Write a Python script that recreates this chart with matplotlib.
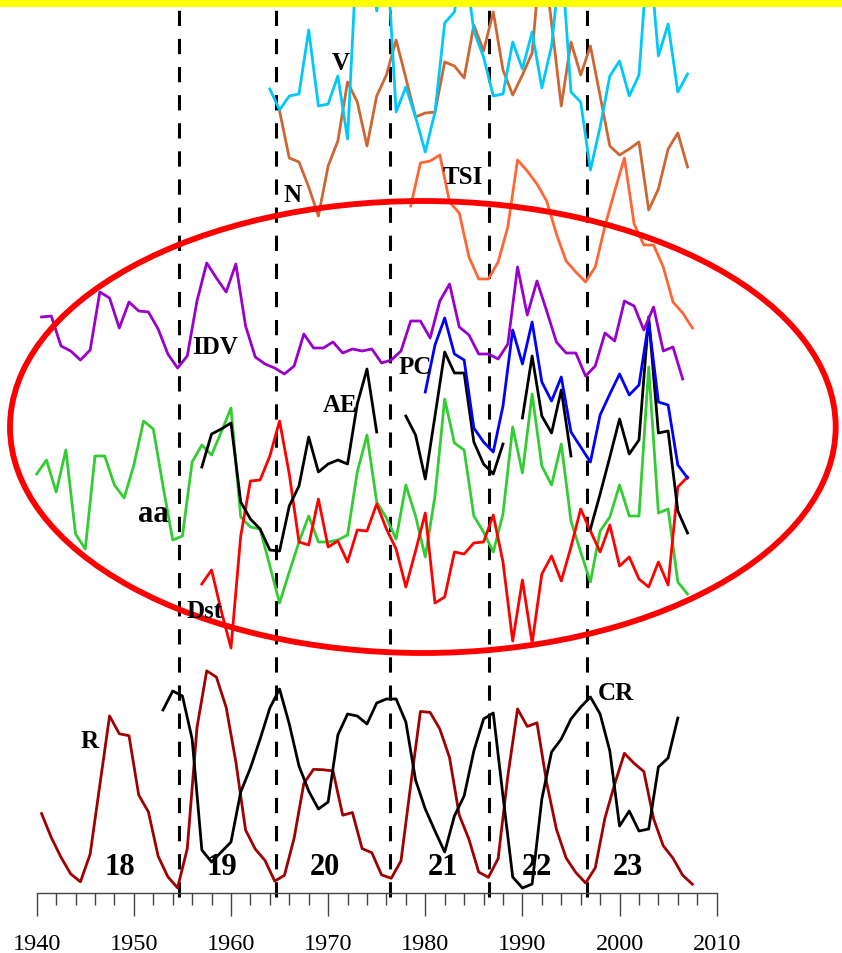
import numpy as np
import matplotlib
matplotlib.use("Agg")
import matplotlib.pyplot as plt
from matplotlib.patches import Ellipse
from matplotlib.ticker import FixedLocator

plt.rcParams['font.family'] = ['Liberation Serif', 'DejaVu Serif']

nan = np.nan

# Annual sunspot number R (plotted at mid-year), cycles 18-23
r_years = np.arange(1940, 2008) + 0.5
sunspot_r = [68.0, 47.5, 30.6, 16.3, 9.6, 33.2, 92.6, 151.6, 136.3, 134.7,
             83.9, 69.4, 31.5, 13.9, 4.4, 38.0, 141.7, 190.2, 184.8, 159.0,
             112.3, 53.9, 37.6, 27.9, 10.2, 15.1, 47.0, 93.8, 105.9, 105.5,
             104.5, 66.6, 68.9, 38.0, 34.5, 15.5, 12.6, 27.5, 92.5, 155.4,
             154.6, 140.4, 115.9, 66.6, 45.9, 17.9, 13.4, 29.4, 100.2, 157.6,
             142.6, 145.7, 94.3, 54.6, 29.9, 17.5, 8.6, 21.5, 64.3, 93.3,
             119.6, 111.0, 104.0, 63.7, 40.4, 29.8, 15.2, 7.5]
r_scale = 1.168

# Remaining indices, given as levels in the common stacked layout
cr_years = np.arange(1953, 2007)
cr_level = [183, 202, 197, 154, 43, 31, 41, 51, 101, 125,
            154, 185, 204, 169, 127, 102, 84, 91, 158, 179,
            177, 169, 190, 194, 194, 171, 113, 84, 62, 41,
            77, 97, 142, 174, 180, 97, 16, 5, 9, 94,
            141, 154, 174, 186, 196, 179, 142, 67, 82, 62,
            64, 126, 135, 175]

dst_years = np.arange(1957, 2008)
dst_level = [309, 323, 282, 245, 357, 412, 413, 437, 472, 419,
             351, 348, 394, 346, 352, 331, 363, 362, 389, 364,
             344, 306, 342, 380, 290, 296, 341, 339, 350, 351,
             378, 331, 252, 313, 250, 319, 337, 312, 346, 384,
             362, 341, 368, 327, 336, 314, 306, 331, 308, 406,
             416]

aa_years = np.arange(1940, 2008)
aa_level = [419, 433, 401, 443, 359, 344, 437, 437, 408, 395,
            428, 472, 464, 407, 353, 357, 431, 448, 438, 461,
            485, 376, 366, 364, 327, 290, 321, 351, 377, 351,
            351, 353, 358, 421, 458, 391, 375, 354, 408, 377,
            336, 397, 494, 450, 443, 377, 361, 341, 379, 466,
            420, 499, 427, 408, 449, 372, 341, 311, 362, 376,
            408, 377, 377, 526, 380, 384, 311, 299]

ae_years = np.arange(1957, 2008)
ae_level = [426, 459, 464, 470, 391, 374, 364, 343, 342, 387,
            407, 456, 421, 429, 433, 429, 489, 524, 461, nan,
            nan, 477, 458, 414, 477, 541, 520, 520, 451, 429,
            419, 449, nan, 475, 537, 477, 460, 503, 437, nan,
            364, 399, 436, 474, 439, 453, 576, 460, 462, 382,
            360]

pc_years = np.arange(1980, 2008)
pc_level = [501, 548, 575, 539, 533, 465, 451, 441, 487, 563,
            529, 571, 511, 492, 516, 461, 446, 431, 478, 499,
            519, 498, 508, 571, 491, 488, 428, 415]

idv_years = np.arange(1940, 2007) + 0.5
idv_level = [576, 577, 547, 542, 533, 543, 601, 595, 565, 591,
             582, 581, 564, 539, 525, 537, 592, 630, 615, 601,
             629, 567, 536, 529, 525, 519, 527, 559, 545, 545,
             551, 540, 544, 542, 544, 530, 533, 542, 572, 572,
             555, 592, 609, 566, 558, 539, 539, 534, 549, 626,
             578, 612, 582, 551, 540, 540, 517, 527, 560, 552,
             592, 587, 563, 586, 542, 546, 514]

tsi_years = np.arange(1978, 2008) + 0.5
tsi_level = [687, 730, 732, 738, 691, 680, 636, 614, 614, 631,
             666, 733, 722, 709, 692, 659, 632, 621, 611, 626,
             667, 702, 735, 669, 648, 648, 626, 591, 580, 565]

n_years = np.arange(1965, 2008)
n_level = [782, 735, 731, 706, 677, 727, 752, 811, 791, 747,
           797, 818, 853, 815, 776, 780, 781, 831, 827, 815,
           868, 842, 881, 823, 798, 818, 840, 950, 870, 787,
           851, 818, 847, 797, 747, 738, 744, 751, 683, 704,
           744, 760, 726]

v_years = np.arange(1964, 2008)
v_level = [804, 783, 797, 799, 863, 787, 789, 817, 754, 950,
           960, 882, 950, 781, 806, 776, 741, 781, 870, 881,
           935, 862, 836, 797, 799, 851, 824, 861, 805, 847,
           940, 801, 791, 723, 766, 817, 832, 797, 818, 950,
           837, 869, 801, 819]

solar_minima = [1954.6, 1964.6, 1976.4, 1986.6, 1996.6]
cycle_numbers = ['18', '19', '20', '21', '22', '23']
cycle_label_years = [1948.6, 1959.1, 1969.7, 1981.8, 1991.5, 2000.9]

fig = plt.figure(figsize=(8.42, 9.54), dpi=100)
ax = fig.add_axes([0, 0, 1, 1])
ax.set_xlim(1936.22, 2022.9)
ax.set_ylim(-60, 894)

lw = 2.0
ax.plot(r_years, np.array(sunspot_r) * r_scale, color='#a00000', lw=lw)
ax.plot(cr_years, cr_level, color='black', lw=lw)
ax.plot(aa_years, aa_level, color='#33cc33', lw=lw)
ax.plot(dst_years, dst_level, color='#ff0000', lw=lw)
ax.plot(ae_years, ae_level, color='black', lw=lw)
ax.plot(pc_years, pc_level, color='#0000ff', lw=lw)
ax.plot(idv_years, idv_level, color='#9900cc', lw=lw)
ax.plot(tsi_years, tsi_level, color='#ff6633', lw=lw)
ax.plot(n_years, n_level, color='#cc6633', lw=lw)
ax.plot(v_years, v_level, color='#00c8f8', lw=lw)

# solar minima
for yr in solar_minima:
    ax.plot([yr, yr], [-4, 886], color='black', lw=2.2,
            dashes=(5, 4.2), zorder=1)

# highlight the geomagnetic block
ax.add_patch(Ellipse((1979.75, 466), 85.0, 452, fill=False,
                     edgecolor='#ff0000', lw=4.2, zorder=5))

ax.axhspan(886, 900, color='#ffff00', zorder=6, lw=0)

labels = [('V', 1971.3, 831, 18), ('N', 1966.3, 698, 18),
          ('TSI', 1983.9, 716, 18), ('IDV', 1958.4, 546, 18),
          ('PC', 1979.0, 527, 18), ('AE', 1971.2, 488, 18),
          ('aa', 1952.0, 380, 22), ('Dst', 1957.3, 282, 18),
          ('R', 1945.4, 152, 18), ('CR', 1999.6, 200, 18)]
for txt, x, y, size in labels:
    ax.text(x, y, txt, fontsize=size, fontweight='bold', ha='center',
            va='center', zorder=7)

for txt, x in zip(cycle_numbers, cycle_label_years):
    ax.text(x, 26, txt, fontsize=22, fontweight='bold', ha='center',
            va='center', zorder=7)

# time axis
for side in ['top', 'left', 'right']:
    ax.spines[side].set_visible(False)
ax.spines['bottom'].set_position(('data', 0))
ax.spines['bottom'].set_bounds(1940, 2010)
ax.spines['bottom'].set_color('#444444')
ax.spines['bottom'].set_linewidth(1.0)
ax.xaxis.set_major_locator(FixedLocator(np.arange(1940, 2011, 10)))
ax.xaxis.set_minor_locator(FixedLocator(np.arange(1940, 2011, 2)))
ax.tick_params(axis='x', which='major', direction='out', length=16.5,
               width=1.0, color='#444444', labelsize=17.5, pad=12)
ax.tick_params(axis='x', which='minor', direction='out', length=8.5,
               width=1.0, color='#444444')
ax.yaxis.set_visible(False)
ax.patch.set_visible(False)

fig.savefig('out.png', dpi=100)
